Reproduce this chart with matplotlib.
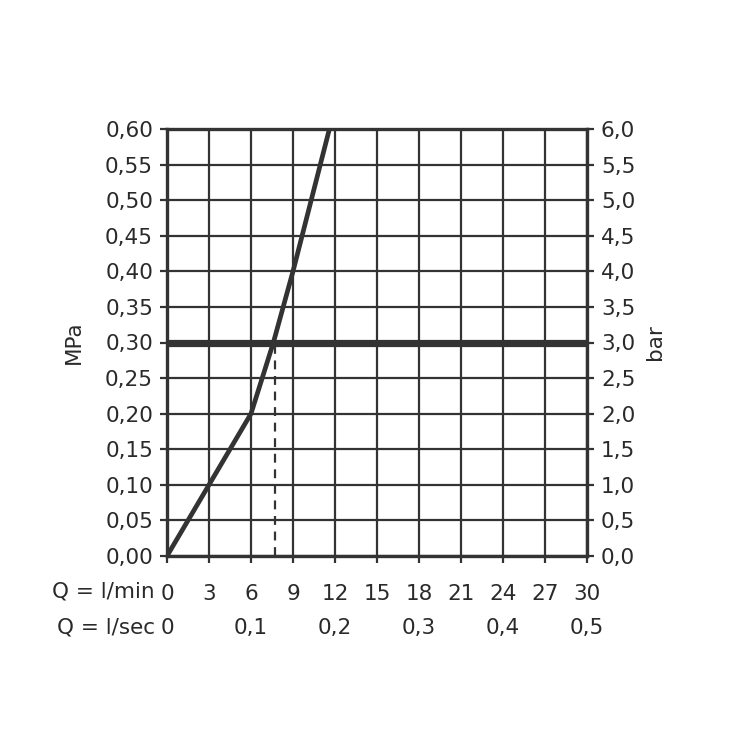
import matplotlib
matplotlib.use("Agg")
import matplotlib.pyplot as plt
import matplotlib.transforms as mtransforms

plt.rcParams['font.family'] = ['DejaVu Sans']

# durchfluss (l/min) und druck (MPa) der kennlinie
q_min = [0, 3, 6, 6.8, 7.6, 8.3, 9.0, 10.3, 11.6]
p_mpa = [0, 0.10, 0.20, 0.25, 0.30, 0.35, 0.40, 0.50, 0.60]

x_ticks = [0, 3, 6, 9, 12, 15, 18, 21, 24, 27, 30]
y_ticks = [0.00, 0.05, 0.10, 0.15, 0.20, 0.25, 0.30, 0.35, 0.40, 0.45, 0.50, 0.55, 0.60]
bar_labels = ['0,0', '0,5', '1,0', '1,5', '2,0', '2,5', '3,0', '3,5', '4,0', '4,5', '5,0', '5,5', '6,0']
sec_pos = [0, 6, 12, 18, 24, 30]
sec_labels = ['0', '0,1', '0,2', '0,3', '0,4', '0,5']

p_ref = 0.30
q_ref = 7.7

farbe = '#333333'
textfarbe = '#2a2a2a'
fs = 15.5

fig = plt.figure(figsize=(7.46, 7.46), dpi=100)
ax = fig.add_axes([167/746, 190/746, 420/746, 427/746])

ax.set_xlim(0, 30)
ax.set_ylim(0, 0.6)

for x in x_ticks:
    ax.axvline(x, color=farbe, lw=1.6, zorder=1)
for y in y_ticks:
    ax.axhline(y, color=farbe, lw=1.6, zorder=1)

ax.axhline(p_ref, color=farbe, lw=5.2, zorder=3)
ax.plot([q_ref, q_ref], [0, p_ref], color=farbe, lw=1.6, ls=(0, (4, 3)), zorder=2)
ax.plot(q_min, p_mpa, color=farbe, lw=3.4, zorder=4, solid_capstyle='butt')

for s in ax.spines.values():
    s.set_color(farbe)
    s.set_linewidth(2.4)

ax.set_yticks(y_ticks)
ax.set_yticklabels([f'{v:.2f}'.replace('.', ',') for v in y_ticks])
ax.set_xticks(x_ticks)
ax.set_xticklabels([str(v) for v in x_ticks])
ax.tick_params(axis='both', colors=farbe, labelcolor=textfarbe, labelsize=fs,
               width=1.6, length=5)
ax.tick_params(axis='x', pad=15)
ax.tick_params(axis='y', pad=5)

ax2 = ax.twinx()
ax2.set_ylim(0, 0.6)
ax2.set_yticks(y_ticks)
ax2.set_yticklabels(bar_labels)
ax2.tick_params(axis='y', colors=farbe, labelcolor=textfarbe, labelsize=fs,
                width=1.6, length=5, pad=5)
for s in ax2.spines.values():
    s.set_visible(False)

ax.set_ylabel('MPa', fontsize=fs, color=textfarbe, labelpad=15)
ax2.set_ylabel('bar', fontsize=fs, color=textfarbe, rotation=90, labelpad=7)

trans = mtransforms.blended_transform_factory(ax.transData, fig.transFigure)
for pos, lab in zip(sec_pos, sec_labels):
    ax.text(pos, 1 - 628/746, lab, transform=trans, ha='center', va='center',
            fontsize=fs, color=textfarbe)

ax.text(155/746, 1 - 592/746, 'Q = l/min', transform=fig.transFigure, ha='right',
        va='center', fontsize=fs, color=textfarbe)
ax.text(155/746, 1 - 628/746, 'Q = l/sec', transform=fig.transFigure, ha='right',
        va='center', fontsize=fs, color=textfarbe)

fig.savefig('out.png', dpi=100)
